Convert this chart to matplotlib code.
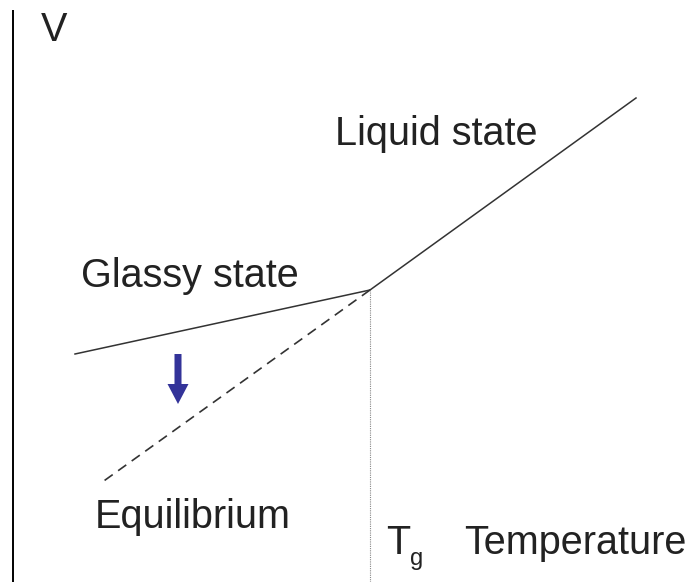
import matplotlib
matplotlib.use('Agg')
import matplotlib.pyplot as plt

# schematic V(T) diagram, coordinates in a 698 x 582 canvas (y up)
glass_T = [75, 370]
glass_V = [228, 292]
liquid_T = [370, 636]
liquid_V = [292, 484]
equil_T = [370, 101]
equil_V = [292, 99]
tg_T = 370
tg_V = 292

labels = ['V', 'Liquid state', 'Glassy state', 'Equilibrium', 'Temperature']
label_x = [41, 335, 81, 95, 464]
label_y = [541, 437, 295, 54, 28]

ink = '#222222'
plt.rcParams['font.family'] = ['Liberation Sans', 'DejaVu Sans']

fig = plt.figure(figsize=(6.98, 5.82), dpi=100)
ax = fig.add_axes([0, 0, 1, 1])
ax.set_xlim(0, 698)
ax.set_ylim(0, 582)
ax.axis('off')

# vertical axis
ax.plot([13, 13], [0, 572], color='black', lw=1.4, solid_capstyle='butt')

ax.plot(glass_T, glass_V, color='#333333', lw=1.1)
ax.plot(liquid_T, liquid_V, color='#333333', lw=1.1)
ax.plot(equil_T, equil_V, color='#333333', lw=1.2, dashes=(6, 4))
ax.plot([tg_T, tg_T], [0, tg_V], color='#888888', lw=0.8, linestyle=(0, (1, 1)))

# relaxation arrow
ax.arrow(178, 228, 0, -50, width=7, head_width=21, head_length=20,
         length_includes_head=True, color='#333399', lw=0)

for txt, x, y in zip(labels, label_x, label_y):
    ax.text(x, y, txt, fontsize=28.5, color=ink, ha='left', va='baseline')

ax.text(386, 28, 'T', fontsize=28.5, color=ink, ha='left', va='baseline')
ax.text(410, 17, 'g', fontsize=17, color=ink, ha='left', va='baseline')

fig.savefig('out.png', dpi=100)
